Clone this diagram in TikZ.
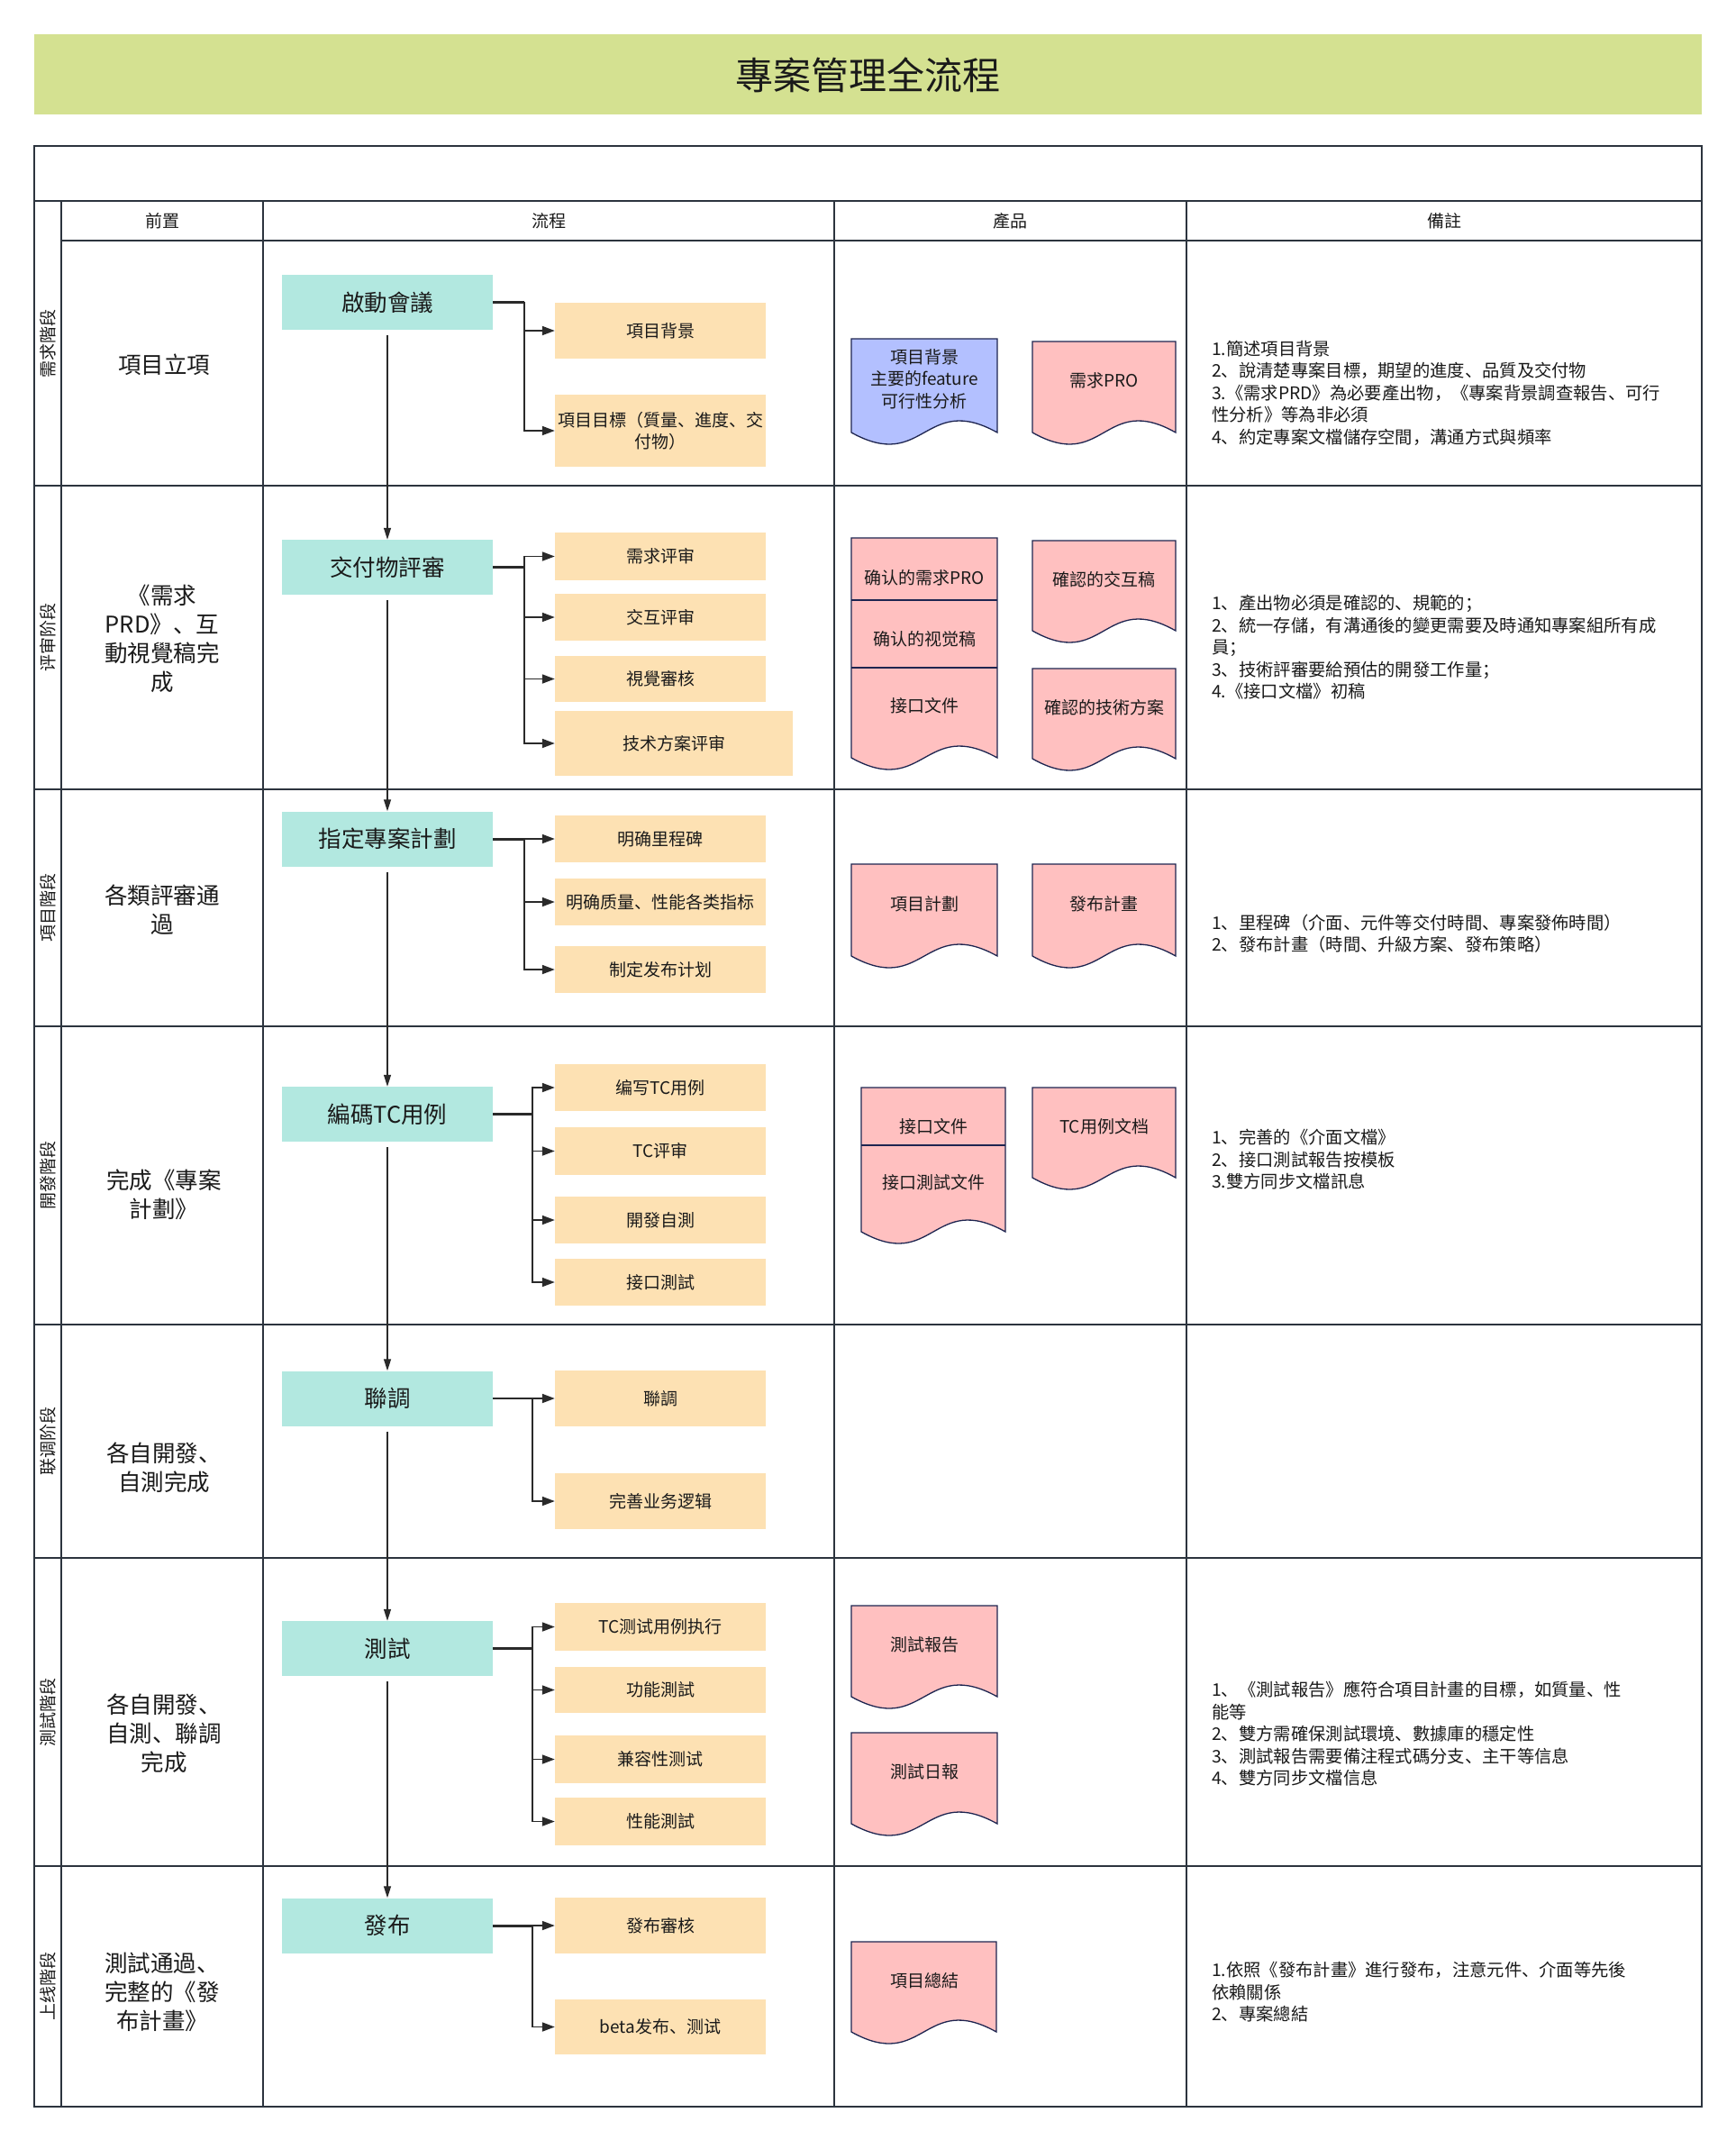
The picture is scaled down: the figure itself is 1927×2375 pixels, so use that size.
\documentclass[tikz,border=0pt]{standalone}
\usepackage{fontspec}
\setmainfont{Noto Sans CJK SC}
\usetikzlibrary{arrows.meta}
\definecolor{titlebg}{HTML}{D4E191}
\definecolor{tealc}{HTML}{B2E8E0}
\definecolor{orangec}{HTML}{FDE1B3}
\definecolor{bluec}{HTML}{B3C0FF}
\definecolor{pinkc}{HTML}{FFC0C0}
\definecolor{gridc}{HTML}{2C343E}
\definecolor{linec}{HTML}{2A2A2A}
\definecolor{docc}{HTML}{1E2550}
\definecolor{txt}{HTML}{1A1A1A}
\newcommand\docshp[5]{\filldraw[docline,fill=#5] (#1,#2) -- (#3,#2) -- (#3,#4) .. controls ({(#1+#3)/2},{#4-45}) and ({(#1+#3)/2},{#4+45}) .. (#1,#4) -- cycle;}
\begin{document}
\begin{tikzpicture}[x=1pt,y=-1pt,
  grid/.style={draw=gridc,line width=2.5pt},
  mainbox/.style={fill=tealc,minimum width=234pt,minimum height=61pt,inner sep=0pt,font=\fontsize{25.5}{30}\selectfont,text=txt},
  subbox/.style={fill=orangec,minimum width=234pt,minimum height=52pt,inner sep=0pt,font=\fontsize{19}{24}\selectfont,align=center,text=txt},
  arr/.style={draw=linec,line width=1.8pt,-{Triangle[length=14pt,width=10pt]}},
  stem/.style={draw=linec,line width=3pt},
  mainarr/.style={draw=linec,line width=1.3pt,-{Triangle[length=13pt,width=8pt]}},
  docline/.style={draw=docc,line width=1.3pt},
  ptext/.style={font=\fontsize{19}{24.5}\selectfont,align=center,text=txt,inner sep=0pt},
  note/.style={font=\fontsize{19.3}{24.5}\selectfont,align=left,anchor=west,text=txt,inner sep=0pt},
  pre/.style={font=\fontsize{25.5}{32}\selectfont,align=center,text=txt,inner sep=0pt},
  lane/.style={font=\fontsize{19}{22}\selectfont,rotate=90,text=txt,inner sep=0pt},
  head/.style={font=\fontsize{19}{22}\selectfont,text=txt,inner sep=0pt}
]
\useasboundingbox (0,0) rectangle (1927,2375);
\fill[white] (0,0) rectangle (1927,2375);
% title
\fill[titlebg] (38,38) rectangle (1889,127);
\node[font=\fontsize{42}{50}\selectfont,text=txt] (title) at (963.5,83) {專案管理全流程};
% grid
\draw[grid] (38,162) rectangle (1889,2338);
\draw[grid] (38,223) -- (1889,223);
\draw[grid] (68,267) -- (1889,267);
\foreach \y in {539,876,1139,1470,1729,2071} \draw[grid] (38,\y) -- (1889,\y);
\foreach \x in {68,292,926,1317} \draw[grid] (\x,223) -- (\x,2338);
% headers
\node[head] (h1) at (180,245) {前置};
\node[head] (h2) at (609,245) {流程};
\node[head] (h3) at (1121.5,245) {產品};
\node[head] (h4) at (1603,245) {備註};
% lane labels
\node[lane] (l1) at (53,381) {需求階段};
\node[lane] (l2) at (53,707.5) {评审阶段};
\node[lane] (l3) at (53,1007.5) {項目階段};
\node[lane] (l4) at (53,1304.5) {開發階段};
\node[lane] (l5) at (53,1599.5) {联调阶段};
\node[lane] (l6) at (53,1900) {測試階段};
\node[lane] (l7) at (53,2204.5) {上线階段};
% prerequisites
\node[pre] (f1) at (182,405) {項目立項};
\node[pre] (f2) at (180,709) {《需求\\PRD》、互\\動視覺稿完\\成};
\node[pre] (f3) at (180,1010) {各類評審通\\過};
\node[pre] (f4) at (182,1325.5) {完成《專案\\計劃》};
\node[pre] (f5) at (182,1628.5) {各自開發、\\自測完成};
\node[pre] (f6) at (182,1924) {各自開發、\\自測、聯調\\完成};
\node[pre] (f7) at (180,2211) {測試通過、\\完整的《發\\布計畫》};
% main process nodes
\node[mainbox] (m1) at (430,335.5) {啟動會議};
\node[mainbox] (m2) at (430,629.5) {交付物評審};
\node[mainbox] (m3) at (430,931) {指定專案計劃};
\node[mainbox] (m4) at (430,1236.5) {編碼TC用例};
\node[mainbox] (m5) at (430,1552) {聯調};
\node[mainbox] (m6) at (430,1829.5) {測試};
\node[mainbox] (m7) at (430,2137) {發布};
% sub nodes
\node[subbox,minimum height=62pt] (s11) at (733,367) {項目背景};
\node[subbox,minimum height=80pt] (s12) at (733,478) {項目目標（質量、進度、交\\付物）};
\node[subbox,minimum height=53pt] (s21) at (733,617.5) {需求评审};
\node[subbox] (s22) at (733,685) {交互评审};
\node[subbox,minimum height=51pt] (s23) at (733,753.5) {視覺審核};
\node[subbox,minimum width=264pt,minimum height=72pt] (s24) at (748,825) {技术方案评审};
\node[subbox] (s31) at (733,931) {明确里程碑};
\node[subbox] (s32) at (733,1001) {明确质量、性能各类指标};
\node[subbox] (s33) at (733,1076) {制定发布计划};
\node[subbox] (s41) at (733,1207) {编写TC用例};
\node[subbox,minimum height=53pt] (s42) at (733,1277.5) {TC评审};
\node[subbox] (s43) at (733,1354) {開發自測};
\node[subbox] (s44) at (733,1423) {接口測試};
\node[subbox,minimum height=62pt] (s51) at (733,1552) {聯調};
\node[subbox,minimum height=62pt] (s52) at (733,1666) {完善业务逻辑};
\node[subbox,minimum height=53pt] (s61) at (733,1805.5) {TC测试用例执行};
\node[subbox,minimum height=51pt] (s62) at (733,1875.5) {功能測試};
\node[subbox,minimum height=53pt] (s63) at (733,1952.5) {兼容性测试};
\node[subbox,minimum height=53pt] (s64) at (733,2021.5) {性能測試};
\node[subbox,minimum height=62pt] (s71) at (733,2137) {發布審核};
\node[subbox,minimum height=61pt] (s72) at (733,2249.5) {beta发布、测试};
% main flow arrows
\draw[mainarr] ([yshift=-6pt]m1.south) -- (m2.north);
\draw[mainarr] ([yshift=-6pt]m2.south) -- (m3.north);
\draw[mainarr] ([yshift=-6pt]m3.south) -- (m4.north);
\draw[mainarr] ([yshift=-6pt]m4.south) -- (m5.north);
\draw[mainarr] ([yshift=-6pt]m5.south) -- (m6.north);
\draw[mainarr] ([yshift=-6pt]m6.south) -- (m7.north);
% branches
\coordinate (b1) at (582,335.5);
\coordinate (b2) at (582,629.5);
\coordinate (b3) at (582,931);
\coordinate (b4) at (591,1236.5);
\coordinate (b5) at (591,1552);
\coordinate (b6) at (591,1829.5);
\coordinate (b7) at (591,2137);
\foreach \s in {s11,s12} \draw[arr] (m1.east) -- (b1) |- (\s.west);
\foreach \s in {s21,s22,s23,s24} \draw[arr] (m2.east) -- (b2) |- (\s.west);
\foreach \s in {s31,s32,s33} \draw[arr] (m3.east) -- (b3) |- (\s.west);
\foreach \s in {s41,s42,s43,s44} \draw[arr] (m4.east) -- (b4) |- (\s.west);
\foreach \s in {s51,s52} \draw[arr] (m5.east) -- (b5) |- (\s.west);
\foreach \s in {s61,s62,s63,s64} \draw[arr] (m6.east) -- (b6) |- (\s.west);
\foreach \s in {s71,s72} \draw[arr] (m7.east) -- (b7) |- (\s.west);
\foreach \m/\b in {m1/b1,m2/b2,m3/b3,m4/b4,m6/b6,m7/b7} \draw[stem] (\m.east) -- (\b);
% products
\docshp{945}{376}{1107}{480}{bluec}
\node[ptext] (p11) at (1026,420.5) {項目背景\\主要的feature\\可行性分析};
\docshp{1146}{379}{1305}{480}{pinkc}
\node[ptext] (p12) at (1225.5,422) {需求PRO};
\docshp{945}{597}{1107}{841}{pinkc}
\draw[docline] (945,666) -- (1107,666);
\draw[docline] (945,741) -- (1107,741);
\node[ptext] (p21) at (1026,641) {确认的需求PRO};
\node[ptext] (p22) at (1026,709) {确认的视觉稿};
\node[ptext] (p23) at (1026,783) {接口文件};
\docshp{1146}{600}{1305}{700}{pinkc}
\node[ptext] (p24) at (1225.5,643) {確認的交互稿};
\docshp{1146}{742}{1305}{842}{pinkc}
\node[ptext] (p25) at (1225.5,785) {確認的技術方案};
\docshp{945}{959}{1107}{1061}{pinkc}
\node[ptext] (p31) at (1026,1003) {項目計劃};
\docshp{1146}{959}{1305}{1061}{pinkc}
\node[ptext] (p32) at (1225.5,1003) {發布計畫};
\docshp{956}{1207}{1116}{1367}{pinkc}
\draw[docline] (956,1271) -- (1116,1271);
\node[ptext] (p41) at (1036,1250) {接口文件};
\node[ptext] (p42) at (1036,1312) {接口測試文件};
\docshp{1146}{1207}{1305}{1307}{pinkc}
\node[ptext] (p43) at (1225.5,1250) {TC用例文档};
\docshp{945}{1782}{1107}{1883}{pinkc}
\node[ptext] (p61) at (1026,1825) {測試報告};
\docshp{945}{1923}{1107}{2024}{pinkc}
\node[ptext] (p62) at (1026,1966) {測試日報};
\docshp{945}{2155}{1106}{2255}{pinkc}
\node[ptext] (p71) at (1026,2198) {項目總結};
% notes
\node[note] (n1) at (1345,436) {1.簡述項目背景\\2、說清楚專案目標，期望的進度、品質及交付物\\3.《需求PRD》為必要產出物，《專案背景調查報告、可行\\性分析》等為非必須\\4、約定專案文檔儲存空間，溝通方式與頻率};
\node[note] (n2) at (1345,718.5) {1、產出物必須是確認的、規範的；\\2、統一存儲，有溝通後的變更需要及時通知專案組所有成\\員；\\3、技術評審要給預估的開發工作量；\\4.《接口文檔》初稿};
\node[note] (n3) at (1345,1036) {1、里程碑（介面、元件等交付時間、專案發佈時間）\\2、發布計畫（時間、升級方案、發布策略）};
\node[note] (n4) at (1345,1287) {1、完善的《介面文檔》\\2、接口測試報告按模板\\3.雙方同步文檔訊息};
\node[note] (n6) at (1345,1924) {1、《測試報告》應符合項目計畫的目標，如質量、性\\能等\\2、雙方需確保測試環境、數據庫的穩定性\\3、測試報告需要備注程式碼分支、主干等信息\\4、雙方同步文檔信息};
\node[note] (n7) at (1345,2211) {1.依照《發布計畫》進行發布，注意元件、介面等先後\\依賴關係\\2、專案總結};
\end{tikzpicture}
\end{document}
